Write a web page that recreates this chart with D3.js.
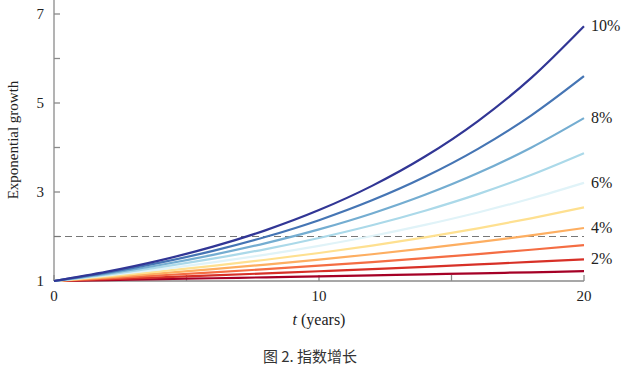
<!DOCTYPE html>
<html>
<head>
<meta charset="utf-8">
<script src="https://cdn.jsdelivr.net/npm/d3@7"></script>
<style>
  body { margin: 0; background: #fff; }
  svg text { font-family: "Liberation Serif", "DejaVu Serif", serif; fill: #222; }
  .caption { font-family: "Noto Sans CJK SC", "Noto Sans", sans-serif !important; }
</style>
</head>
<body>
<svg id="chart" width="624" height="374"></svg>
<script>
// years sampled along each curve
var years = [0, 2, 4, 6, 8, 10, 12, 14, 16, 18, 20];

// growth rates, low to high
var rates = ["1%", "2%", "3%", "4%", "5%", "6%", "7%", "8%", "9%", "10%"];

var growth1 = [1, 1.020, 1.041, 1.062, 1.083, 1.105, 1.127, 1.149, 1.173, 1.196, 1.220];
var growth2 = [1, 1.040, 1.082, 1.126, 1.172, 1.219, 1.268, 1.319, 1.373, 1.428, 1.486];
var growth3 = [1, 1.061, 1.126, 1.194, 1.267, 1.344, 1.426, 1.513, 1.605, 1.702, 1.806];
var growth4 = [1, 1.082, 1.170, 1.265, 1.369, 1.480, 1.601, 1.732, 1.873, 2.026, 2.191];
var growth5 = [1, 1.103, 1.216, 1.340, 1.477, 1.629, 1.796, 1.980, 2.183, 2.407, 2.653];
var growth6 = [1, 1.124, 1.262, 1.419, 1.594, 1.791, 2.012, 2.261, 2.540, 2.854, 3.207];
var growth7 = [1, 1.145, 1.311, 1.501, 1.718, 1.967, 2.252, 2.579, 2.952, 3.380, 3.870];
var growth8 = [1, 1.166, 1.360, 1.587, 1.851, 2.159, 2.518, 2.937, 3.426, 3.996, 4.661];
var growth9 = [1, 1.188, 1.412, 1.677, 1.993, 2.367, 2.813, 3.342, 3.970, 4.717, 5.604];
var growth10 = [1, 1.210, 1.464, 1.772, 2.144, 2.594, 3.138, 3.797, 4.595, 5.560, 6.727];

var allGrowth = [growth1, growth2, growth3, growth4, growth5, growth6, growth7, growth8, growth9, growth10];

// only every other rate gets a label at the end
var labelled = ["2%", "4%", "6%", "8%", "10%"];

var xTicks = [0, 5, 10, 15, 20];
var xTickLabels = [0, 10, 20];
var yTicks = [1, 2, 3, 4, 5, 6, 7];
var yTickLabels = [1, 3, 5, 7];
var doubling = 2;

var svg = d3.select("#chart");
var axisColor = "#8a8a8a";

var x = d3.scaleLinear().domain([0, 20]).range([54, 584]);
var y = d3.scaleLinear().domain([1, 7]).range([281, 14]);

// axis lines (y goes up to the top edge)
svg.append("line")
    .attr("x1", x(0)).attr("x2", x(20))
    .attr("y1", y(1)).attr("y2", y(1))
    .attr("stroke", axisColor).attr("stroke-width", 1.3);
svg.append("line")
    .attr("x1", x(0)).attr("x2", x(0))
    .attr("y1", y(1)).attr("y2", 0)
    .attr("stroke", axisColor).attr("stroke-width", 1.3);

// ticks point inward
svg.selectAll(".xtick").data(xTicks).enter().append("line")
    .attr("x1", d => x(d)).attr("x2", d => x(d))
    .attr("y1", y(1)).attr("y2", y(1) - 6)
    .attr("stroke", axisColor).attr("stroke-width", 1.3);
svg.selectAll(".ytick").data(yTicks).enter().append("line")
    .attr("x1", x(0)).attr("x2", x(0) + 6)
    .attr("y1", d => y(d)).attr("y2", d => y(d))
    .attr("stroke", axisColor).attr("stroke-width", 1.3);

svg.selectAll(".xlab").data(xTickLabels).enter().append("text")
    .attr("x", d => x(d)).attr("y", y(1) + 20)
    .attr("text-anchor", "middle")
    .style("font-size", "15px")
    .text(d => d);
svg.selectAll(".ylab").data(yTickLabels).enter().append("text")
    .attr("x", x(0) - 10).attr("y", d => y(d) + 5)
    .attr("text-anchor", "end")
    .style("font-size", "15px")
    .text(d => d);

// doubling reference line
svg.append("line")
    .attr("x1", x(0)).attr("x2", x(20))
    .attr("y1", y(doubling)).attr("y2", y(doubling))
    .attr("stroke", "#777").attr("stroke-width", 1.2)
    .attr("stroke-dasharray", "7,4");

var colors = d3.schemeRdYlBu[10];
var line = d3.line()
    .x((d, i) => x(years[i]))
    .y(d => y(d))
    .curve(d3.curveMonotoneX);

svg.selectAll(".curve").data(allGrowth).enter().append("path")
    .attr("d", d => line(d))
    .attr("fill", "none")
    .attr("stroke", (d, i) => colors[i])
    .attr("stroke-width", 2.2);

rates.forEach(function (r, i) {
    if (labelled.indexOf(r) < 0) return;
    var last = allGrowth[i][allGrowth[i].length - 1];
    svg.append("text")
        .attr("x", x(20) + 7)
        .attr("y", y(last) + 5)
        .style("font-size", "16px")
        .text(r);
});

// axis titles
svg.append("text")
    .attr("x", 319).attr("y", 325)
    .attr("text-anchor", "middle")
    .style("font-size", "16px")
    .html('<tspan font-style="italic">t</tspan> (years)');

svg.append("text")
    .attr("transform", "translate(18,140) rotate(-90)")
    .attr("text-anchor", "middle")
    .style("font-size", "15px")
    .text("Exponential growth");

svg.append("text")
    .attr("class", "caption")
    .attr("x", 310).attr("y", 362)
    .attr("text-anchor", "middle")
    .style("font-size", "15px")
    .style("fill", "#333")
    .text("图 2. 指数增长");
</script>
</body>
</html>
